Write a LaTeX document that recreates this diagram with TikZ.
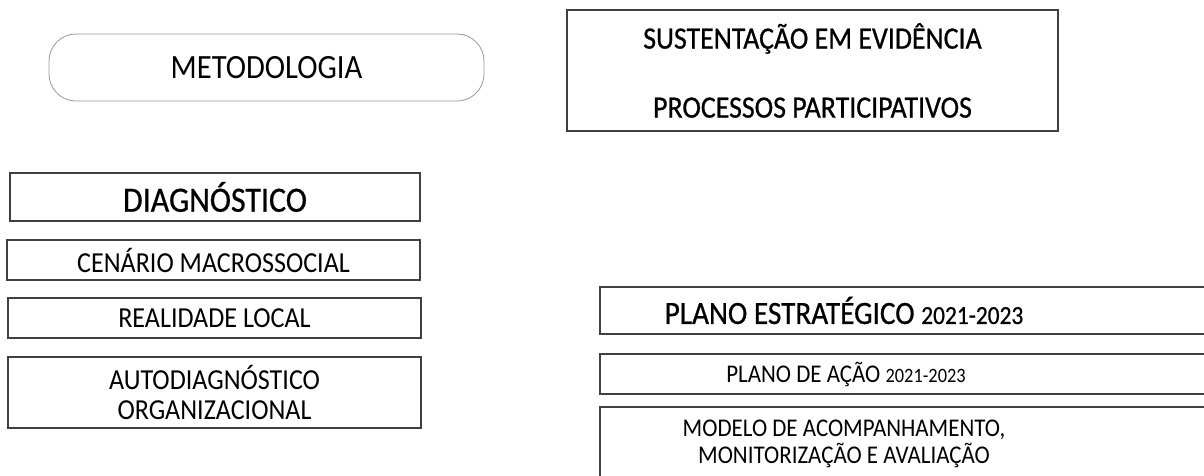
\documentclass[tikz,border=0pt]{standalone}
\usepackage{fontspec}
\setmainfont[FakeStretch=0.9]{Carlito}
\newfontfamily\headfont[FakeBold=0.7,FakeStretch=0.9]{Carlito}
\newcommand{\anos}[1]{\scalebox{0.8}{#1}}

\begin{document}
\begin{tikzpicture}[x=1pt,y=-1pt,
		box/.style={draw=black!75,line width=1.2pt,inner sep=0pt,align=center},
		pill/.style={draw=black!40,line width=0.8pt,rounded corners=27pt,minimum width=435pt,minimum height=67pt,font=\fontsize{34}{40}\selectfont},
		lbox/.style={box,minimum width=413pt,font=\fontsize{29}{30}\selectfont},
		rframe/.style={box,minimum width=640pt},
		small/.style={align=center,inner sep=0pt,font=\fontsize{25.5}{27}\selectfont},
		big/.style={align=center,inner sep=0pt,font=\headfont\fontsize{31}{36}\selectfont}]
			\useasboundingbox (0,0) rectangle (1204,475);
			\clip (0,0) rectangle (1204,475);
			\node[pill] (metod) at (266.5,67.5) {METODOLOGIA};
			\node[box,big,minimum width=491pt,minimum height=121pt] (sust) at (812.5,70.5) {SUSTENTAÇÃO EM EVIDÊNCIA\\[33pt]PROCESSOS PARTICIPATIVOS};
			\node[lbox,minimum width=410pt,minimum height=48pt,font=\headfont\fontsize{35.5}{38}\selectfont] (diag) at (215,197) {DIAGNÓSTICO};
			\node[lbox,minimum height=40pt] (cenario) at (213.5,260) {CENÁRIO MACROSSOCIAL};
			\node[lbox,minimum height=40pt] (realid) at (214.5,318) {REALIDADE LOCAL};
			\node[lbox,minimum height=71pt] (autodiag) at (214.5,392.5) {AUTODIAGNÓSTICO\\ORGANIZACIONAL};
			\node[rframe,minimum height=47pt] (plano) at (920,310.5) {};
			\node[rframe,minimum height=40pt] (acao) at (920,374) {};
			\node[rframe,minimum height=100pt] (modelo) at (920,457) {};
			\node[big,font=\headfont\fontsize{32.5}{36}\selectfont] (planotxt) at (844,310.5) {PLANO ESTRATÉGICO \anos{2021-2023}};
			\node[small] (acaotxt) at (846,374) {PLANO DE AÇÃO \anos{2021-2023}};
			\node[small] (modelotxt) at (844,443.5) {MODELO DE ACOMPANHAMENTO,\\MONITORIZAÇÃO E AVALIAÇÃO};
		\end{tikzpicture}
\end{document}
